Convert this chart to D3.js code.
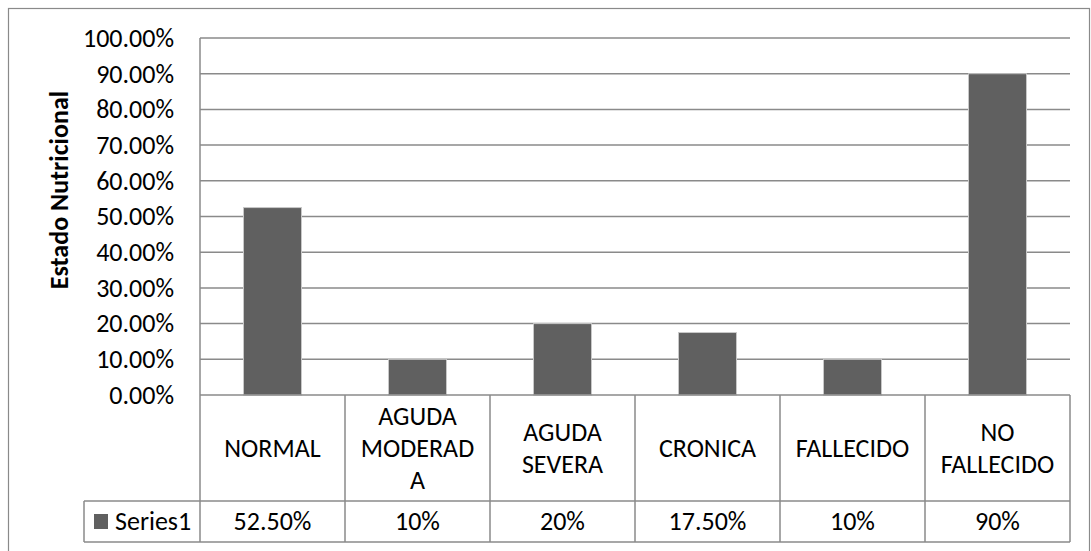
<!DOCTYPE html>
<html>
<head>
<meta charset="utf-8">
<script src="https://cdn.jsdelivr.net/npm/d3@7"></script>
<style>
  html, body { margin: 0; padding: 0; background: #fff; }
  svg { display: block; font-family: Carlito, Lato, "Open Sans", sans-serif; }
</style>
</head>
<body>
<svg id="chart" width="1091" height="551"></svg>
<script>
// Estado nutricional: categorías y porcentajes de la serie
const categories = ["NORMAL", "AGUDA MODERADA", "AGUDA SEVERA", "CRONICA", "FALLECIDO", "NO FALLECIDO"];
const categoryLines = [["NORMAL"], ["AGUDA", "MODERAD", "A"], ["AGUDA", "SEVERA"], ["CRONICA"], ["FALLECIDO"], ["NO", "FALLECIDO"]];
const values = [0.525, 0.10, 0.20, 0.175, 0.10, 0.90];
const valueLabels = ["52.50%", "10%", "20%", "17.50%", "10%", "90%"];
const yTicks = [0, 0.1, 0.2, 0.3, 0.4, 0.5, 0.6, 0.7, 0.8, 0.9, 1.0];
const seriesName = "Series1";
const axisTitle = "Estado Nutricional";

const svg = d3.select("#chart");
const plot = { left: 200, right: 1070, top: 38, bottom: 395 };
const catRowBottom = 501, valRowBottom = 542, legendLeft = 84;
const lineColor = "#8a8a8a";
const textColor = "#000";
const fontSize = 26;

// outer chart frame
svg.append("rect")
  .attr("x", 8.5).attr("y", 8.5)
  .attr("width", 1081).attr("height", 600)
  .attr("fill", "none").attr("stroke", "#8a8a8a").attr("stroke-width", 1.2);

const y = d3.scaleLinear().domain([0, 1]).range([plot.bottom, plot.top]);
const x = d3.scaleBand().domain(categories).range([plot.left, plot.right])
  .paddingInner(0.6).paddingOuter(0.3);
const col = d3.scaleBand().domain(categories).range([plot.left, plot.right]).padding(0);

// gridlines
svg.append("g").selectAll("line").data(yTicks.filter(d => d > 0)).join("line")
  .attr("x1", plot.left).attr("x2", plot.right)
  .attr("y1", d => y(d)).attr("y2", d => y(d))
  .attr("stroke", lineColor).attr("stroke-width", 1.5);

// y axis tick labels
const fmt = d3.format(".2%");
svg.append("g").selectAll("text").data(yTicks).join("text")
  .attr("x", 174).attr("y", d => y(d))
  .attr("dy", "0.34em")
  .attr("text-anchor", "end")
  .attr("font-size", fontSize).attr("fill", textColor)
  .text(d => fmt(d));

// bars
svg.append("g").selectAll("rect").data(values).join("rect")
  .attr("x", (d, i) => x(categories[i]))
  .attr("width", x.bandwidth())
  .attr("y", d => y(d))
  .attr("height", d => y(0) - y(d))
  .attr("fill", "#606060")
  .attr("stroke", "#c8c8c8").attr("stroke-width", 1);

// y axis title
svg.append("text")
  .attr("transform", `translate(68,190) rotate(-90)`)
  .attr("text-anchor", "middle")
  .attr("font-size", fontSize).attr("font-weight", "bold").attr("fill", textColor)
  .text(axisTitle);

// data table grid
const grid = svg.append("g").attr("stroke", lineColor).attr("stroke-width", 1.5);
grid.append("line").attr("x1", plot.left).attr("x2", plot.right).attr("y1", plot.bottom).attr("y2", plot.bottom);
grid.append("line").attr("x1", legendLeft).attr("x2", plot.right).attr("y1", catRowBottom).attr("y2", catRowBottom);
grid.append("line").attr("x1", legendLeft).attr("x2", plot.right).attr("y1", valRowBottom).attr("y2", valRowBottom);
grid.append("line").attr("x1", plot.left).attr("x2", plot.left).attr("y1", plot.top).attr("y2", valRowBottom);
grid.append("line").attr("x1", legendLeft).attr("x2", legendLeft).attr("y1", catRowBottom).attr("y2", valRowBottom);
grid.selectAll("line.col").data(categories).join("line").attr("class", "col")
  .attr("x1", d => col(d) + col.bandwidth()).attr("x2", d => col(d) + col.bandwidth())
  .attr("y1", plot.bottom).attr("y2", valRowBottom);

// category labels
const lineH = 32;
const catMid = (plot.bottom + catRowBottom) / 2;
categories.forEach((c, i) => {
  const lines = categoryLines[i];
  const t = svg.append("text")
    .attr("text-anchor", "middle")
    .attr("font-size", fontSize).attr("fill", textColor);
  lines.forEach((ln, j) => {
    t.append("tspan")
      .attr("x", col(c) + col.bandwidth() / 2)
      .attr("y", catMid + (j - (lines.length - 1) / 2) * lineH)
      .attr("dy", "0.34em")
      .text(ln);
  });
});

// value row
const valMid = (catRowBottom + valRowBottom) / 2;
svg.append("g").selectAll("text").data(valueLabels).join("text")
  .attr("x", (d, i) => col(categories[i]) + col.bandwidth() / 2)
  .attr("y", valMid).attr("dy", "0.34em")
  .attr("text-anchor", "middle")
  .attr("font-size", fontSize).attr("fill", textColor)
  .text(d => d);

// legend key
svg.append("rect").attr("x", 94).attr("y", valMid - 7.5).attr("width", 14).attr("height", 15)
  .attr("fill", "#606060");
svg.append("text").attr("x", 115).attr("y", valMid).attr("dy", "0.34em")
  .attr("font-size", fontSize).attr("fill", textColor)
  .text(seriesName);
</script>
</body>
</html>
